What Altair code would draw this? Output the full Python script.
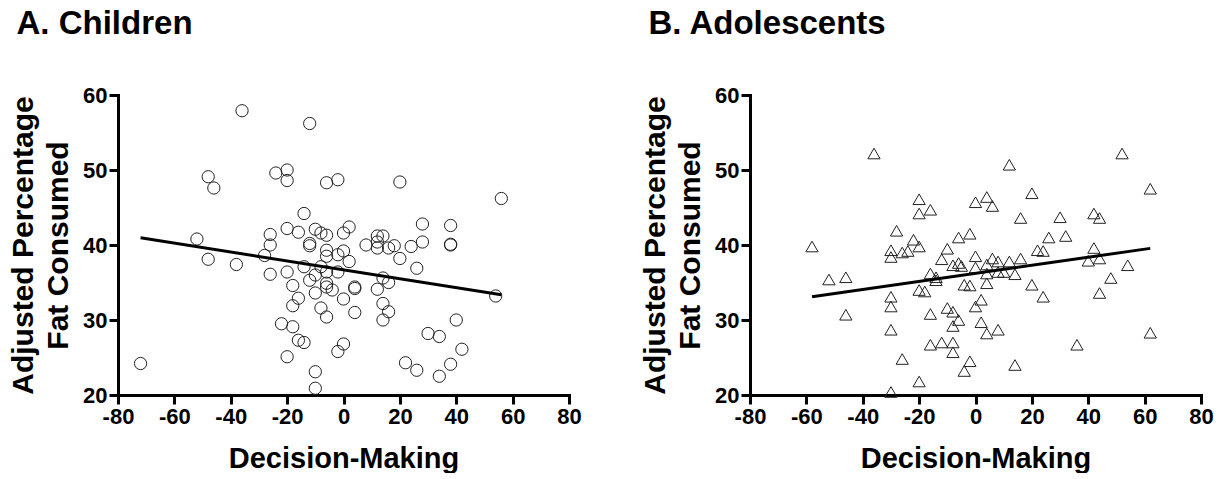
import altair as alt
import pandas as pd

# ---- Panel A: Children (open circles) ----
child_x = [-36, -12, -48, -46, -24, -20, -20, -6, -2, 20, 56, -14, -52, -26, -26,
           -20, -16, -10, -8, -6, -12, -12, 0, 2, -6, -6, -2, 0, 2, -48,
           -38, -28, -26, -20, -18, -14, -12, -10, -18, -16, -8, -6, -22, -18, -16,
           -14, -20, -10, -10, -72, -8, -6, -2, -10, -6, -6, -4, 0, 4, 4,
           4, 8, 12, 14, 12, 12, 16, 18, 20, 24, 28, 28, 26, 14, 16,
           12, 14, 16, 14, -2, 0, 22, 26, 30, 34, 38, 38, 38, 40, 42,
           38, 34, 54]
child_y = [57.9, 56.2, 49.1, 47.6, 49.6, 50.0, 48.6, 48.3, 48.7, 48.4, 46.2, 44.2, 40.8, 41.4, 40.0,
           42.2, 41.7, 42.1, 41.6, 41.3, 40.2, 39.9, 41.6, 42.4, 39.3, 38.5, 38.7, 39.2, 37.8, 38.1,
           37.4, 38.6, 36.1, 36.4, 34.6, 37.1, 35.3, 33.6, 31.9, 32.9, 31.6, 30.4, 29.5, 29.1, 27.3,
           27.0, 25.1, 23.1, 20.9, 24.2, 37.1, 36.4, 36.4, 36.0, 34.9, 34.4, 34.0, 32.8, 34.4, 34.2,
           31.0, 40.0, 41.2, 41.2, 40.4, 39.6, 39.6, 39.9, 38.2, 39.8, 40.4, 42.8, 36.9, 35.6, 35.0,
           34.1, 32.2, 31.1, 30.0, 25.8, 26.8, 24.3, 23.3, 28.2, 27.8, 42.6, 40.1, 40.0, 30.0, 26.1,
           24.1, 22.5, 33.2]

# ---- Panel B: Adolescents (open triangles) ----
adol_x = [-36, -20, -20, -16, 0, -28, -22, -20, -6, -2, -58, -10, 12, 52, 62,
          20, 4, 6, 16, 30, 42, 44, 26, 32, 42, 22, 24, -30, -30, -26,
          -24, -12, -8, -6, -5, 0, 4, 6, 8, 12, 16, 0, 4, 8, 10,
          14, 40, 44, -16, -14, -14, -4, -2, 4, -20, -18, -30, -30, -16, -10,
          -8, -6, -8, 0, 2, 20, 24, -30, 2, 4, 8, -16, -12, -8, -8,
          -26, -2, -4, 14, 36, -20, -52, -46, -46, -30, 54, 48, 44, 62]
adol_y = [52.2, 46.1, 44.2, 44.7, 45.7, 41.9, 40.7, 39.8, 41.0, 41.5, 39.8, 39.5, 50.7, 52.2, 47.5,
          46.9, 46.4, 45.2, 43.6, 43.7, 44.2, 43.6, 41.0, 41.2, 39.6, 39.3, 39.2, 39.3, 38.4, 39.0,
          39.2, 38.1, 37.3, 37.6, 37.2, 38.5, 37.4, 38.2, 37.8, 37.8, 38.2, 37.0, 36.2, 36.4, 36.4,
          36.1, 37.9, 38.2, 36.2, 35.7, 35.3, 34.7, 34.6, 34.9, 34.0, 33.8, 33.1, 31.8, 30.8, 31.6,
          31.1, 30.0, 29.2, 31.8, 32.7, 34.7, 33.1, 28.7, 29.7, 28.2, 28.7, 26.7, 27.0, 27.0, 25.7,
          24.8, 24.5, 23.2, 24.0, 26.7, 21.8, 35.4, 35.7, 30.7, 20.4, 37.3, 35.6, 33.6, 28.3]

x_ticks = [-80, -60, -40, -20, 0, 20, 40, 60, 80]
y_ticks = [20, 30, 40, 50, 60]

FONT = "Liberation Sans"


def panel(xs, ys, shape, title):
    df = pd.DataFrame({"x": xs, "y": ys})
    xenc = alt.X(
        "x:Q",
        scale=alt.Scale(domain=[-80, 80], nice=False, zero=False),
        axis=alt.Axis(values=x_ticks, title="Decision-Making", titleFontSize=29,
                      titlePadding=17, labelFlush=False, labelExpr="'' + datum.value"),
    )
    yenc = alt.Y(
        "y:Q",
        scale=alt.Scale(domain=[20, 60], nice=False, zero=False),
        axis=alt.Axis(values=y_ticks, title=["Adjusted Percentage", "Fat Consumed"],
                      titleFontSize=30, titleLineHeight=35, titlePadding=9,
                      labelExpr="'' + datum.value"),
    )
    pts = alt.Chart(df).mark_point(
        shape=shape, filled=False, size=150, stroke="#222222", strokeWidth=1, opacity=1
    ).encode(x=xenc, y=yenc)
    line = alt.Chart(df).transform_regression("x", "y").mark_line(
        color="black", strokeWidth=3
    ).encode(x="x:Q", y="y:Q")
    return alt.layer(pts, line).properties(
        width=451, height=300,
        title=alt.TitleParams(text=title, anchor="start", frame="bounds", font=FONT,
                              fontSize=33, fontWeight="bold", color="black",
                              offset=43, dx=8, baseline="top"),
    )


a = panel(child_x, child_y, "circle", "A. Children")
b = panel(adol_x, adol_y, "triangle-up", "B. Adolescents")

chart = (
    alt.hconcat(a, b, spacing=58)
    .properties(padding=0)
    .configure_view(stroke=None)
    .configure_axis(
        domainColor="black", domainWidth=3, domainCap="square",
        tickColor="black", tickWidth=3, tickSize=9,
        labelFont=FONT, labelFontSize=22, labelFontWeight="bold", labelColor="black",
        labelPadding=2, titleFont=FONT, titleFontWeight="bold", titleColor="black",
        grid=False,
    )
)

chart.save("out.html", embed_options={"renderer": "svg", "actions": False})
